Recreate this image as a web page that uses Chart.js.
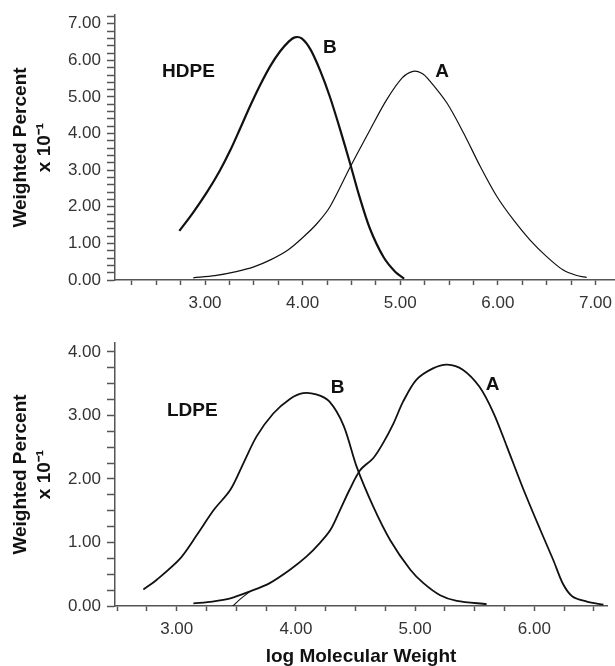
<!DOCTYPE html>
<html>
<head>
<meta charset="utf-8">
<script src="https://cdn.jsdelivr.net/npm/chart.js@4.4.1/dist/chart.umd.min.js"></script>
<style>
  html, body { margin: 0; padding: 0; background: #fff; }
  #wrap { position: relative; width: 615px; height: 666px; overflow: hidden; }
  canvas { position: absolute; left: 0; }
  #c1 { top: 0; }
  #c2 { top: 315px; }
</style>
</head>
<body>
<div id="wrap">
  <canvas id="c1" width="615" height="315"></canvas>
  <canvas id="c2" width="615" height="351"></canvas>
</div>
<script>
// ---------------- DATA ----------------
// HDPE panel
const hdpeA_x = [2.88, 3.10, 3.32, 3.50, 3.67, 3.85, 4.01, 4.15, 4.28, 4.49, 4.69, 4.86, 5.02, 5.13, 5.22, 5.30, 5.48, 5.65, 5.82, 5.99, 6.16, 6.33, 6.50, 6.67, 6.80, 6.91];
const hdpeA_y = [0.06, 0.12, 0.23, 0.36, 0.55, 0.82, 1.18, 1.55, 2.00, 3.10, 4.10, 4.92, 5.52, 5.70, 5.65, 5.45, 4.83, 4.01, 3.10, 2.28, 1.64, 1.09, 0.64, 0.27, 0.13, 0.07];
const hdpeB_x = [2.737, 2.88, 3.02, 3.15, 3.26, 3.36, 3.46, 3.56, 3.67, 3.77, 3.86, 3.92, 3.99, 4.08, 4.18, 4.28, 4.38, 4.49, 4.58, 4.69, 4.83, 4.95, 5.04];
const hdpeB_y = [1.34, 1.85, 2.40, 2.98, 3.55, 4.14, 4.74, 5.30, 5.85, 6.25, 6.52, 6.63, 6.60, 6.30, 5.72, 5.00, 4.15, 3.15, 2.30, 1.40, 0.62, 0.22, 0.04];

// LDPE panel
const ldpeA_x = [3.14, 3.30, 3.45, 3.615, 3.78, 3.95, 4.09, 4.20, 4.29, 4.37, 4.45, 4.54, 4.65, 4.73, 4.82, 4.90, 5.01, 5.15, 5.27, 5.40, 5.54, 5.66, 5.77, 5.91, 6.05, 6.16, 6.24, 6.32, 6.44, 6.58];
const ldpeA_y = [0.04, 0.07, 0.12, 0.23, 0.36, 0.57, 0.78, 0.99, 1.20, 1.51, 1.83, 2.14, 2.33, 2.56, 2.88, 3.22, 3.56, 3.74, 3.80, 3.72, 3.45, 3.03, 2.51, 1.83, 1.20, 0.72, 0.35, 0.15, 0.07, 0.02];
const ldpeA2_x = [3.47, 3.54, 3.615];
const ldpeA2_y = [0.00, 0.12, 0.23];
const ldpeB_x = [2.72, 2.83, 3.03, 3.17, 3.31, 3.45, 3.56, 3.67, 3.81, 3.95, 4.06, 4.17, 4.28, 4.40, 4.51, 4.65, 4.79, 4.96, 5.07, 5.21, 5.35, 5.60];
const ldpeB_y = [0.26, 0.41, 0.75, 1.12, 1.51, 1.83, 2.25, 2.67, 3.03, 3.26, 3.35, 3.33, 3.22, 2.84, 2.19, 1.56, 1.04, 0.57, 0.36, 0.17, 0.08, 0.03];

// Labelled (major) tick values
const hdpeXMajor = [3, 4, 5, 6, 7];
const hdpeYMajor = [0, 1, 2, 3, 4, 5, 6, 7];
const ldpeXMajor = [3, 4, 5, 6];
const ldpeYMajor = [0, 1, 2, 3, 4];

// Text labels
const yTitle = ['Weighted Percent', 'x 10\u207B\u00B9'];
const xTitle = 'log Molecular Weight';
const hdpeNotes = [{text: 'HDPE', x: 2.83, y: 5.69}, {text: 'B', x: 4.28, y: 6.35}, {text: 'A', x: 5.43, y: 5.69}];
const ldpeNotes = [{text: 'LDPE', x: 3.13, y: 3.07}, {text: 'B', x: 4.35, y: 3.44}, {text: 'A', x: 5.65, y: 3.48}];

// ---------------- RENDERING ----------------
const FAMILY = '"Liberation Sans", Arial, Helvetica, sans-serif';
Chart.defaults.font.family = FAMILY;
Chart.defaults.color = '#333';

function pts(xs, ys) { return xs.map((x, i) => ({x: x, y: ys[i]})); }

function stepTicks(step) {
  return function (scale) {
    const t = [];
    const k0 = Math.ceil(scale.min / step - 1e-9);
    for (let k = k0; k * step <= scale.max + 1e-9; k++) {
      t.push({value: Math.round(k * step * 10000) / 10000});
    }
    scale.ticks = t;
  };
}
function labeler(majors) {
  return function (v) {
    return majors.some(m => Math.abs(m - v) < 1e-6) ? Number(v).toFixed(2) : '';
  };
}
function noPad(s) { s.paddingLeft = 0; s.paddingRight = 0; s.paddingTop = 0; s.paddingBottom = 0; }

const notesPlugin = {
  id: 'notes',
  afterDatasetsDraw(chart, args, opts) {
    const {ctx} = chart;
    const xs = chart.scales.x, ys = chart.scales.y;
    ctx.save();
    ctx.font = 'bold 19px ' + FAMILY;
    ctx.fillStyle = '#111';
    ctx.textAlign = 'center';
    ctx.textBaseline = 'middle';
    (opts.items || []).forEach(n => {
      ctx.fillText(n.text, xs.getPixelForValue(n.x), ys.getPixelForValue(n.y));
    });
    ctx.restore();
  }
};

function line(data, width) {
  return {
    data: data, borderColor: '#111', borderWidth: width, pointRadius: 0,
    fill: false, tension: 0.3
  };
}

function makeChart(id, cfg) {
  return new Chart(document.getElementById(id), {
    type: 'line',
    data: {datasets: cfg.datasets},
    options: {
      responsive: false,
      animation: false,
      devicePixelRatio: 1,
      layout: {padding: {top: cfg.padTop, right: cfg.padRight, bottom: 0, left: 0}},
      plugins: {
        legend: {display: false},
        tooltip: {enabled: false},
        notes: {items: cfg.notes}
      },
      scales: {
        x: {
          type: 'linear', min: cfg.xMin, max: cfg.xMax, bounds: 'data',
          afterBuildTicks: stepTicks(0.25),
          afterFit: s => { s.height = cfg.xHeight; noPad(s); },
          ticks: {autoSkip: false, maxRotation: 0, minRotation: 0, padding: 8, color: '#333',
                  font: {size: 17}, callback: labeler(cfg.xMajor)},
          grid: {drawOnChartArea: false, drawTicks: true, tickLength: 5, tickColor: '#555', tickWidth: 1.5},
          border: {display: true, color: '#555', width: 1.5},
          title: cfg.xTitle ? {display: true, text: cfg.xTitle, color: '#111',
                  font: {size: 19, weight: 'bold', lineHeight: 1}, padding: {top: 0, bottom: 0}} : {display: false}
        },
        y: {
          type: 'linear', min: 0, max: cfg.yMax, bounds: 'data',
          afterBuildTicks: stepTicks(cfg.yStep),
          afterFit: s => { s.width = 115; noPad(s); },
          ticks: {autoSkip: false, padding: 6, color: '#333', font: {size: 17}, callback: labeler(cfg.yMajor)},
          grid: {drawOnChartArea: false, drawTicks: true, tickLength: 8, tickColor: '#555', tickWidth: 1.5},
          border: {display: true, color: '#555', width: 1.5},
          title: {display: true, text: yTitle, color: '#111',
                  font: {size: 19, weight: 'bold', lineHeight: 24 / 19}, padding: {top: 9, bottom: 0}}
        }
      }
    },
    plugins: [notesPlugin]
  });
}

makeChart('c1', {
  datasets: [line(pts(hdpeA_x, hdpeA_y), 1.2), line(pts(hdpeB_x, hdpeB_y), 2.2)],
  notes: hdpeNotes,
  padTop: 15, padRight: 0, xHeight: 35,
  xMin: 2.078, xMax: 7.2, xMajor: hdpeXMajor,
  yMax: 7.24, yStep: 0.2, yMajor: hdpeYMajor,
  xTitle: null
});

makeChart('c2', {
  datasets: [line(pts(ldpeA_x, ldpeA_y), 1.8), line(pts(ldpeA2_x, ldpeA2_y), 1.1), line(pts(ldpeB_x, ldpeB_y), 1.8)],
  notes: ldpeNotes,
  padTop: 28, padRight: 8, xHeight: 60,
  xMin: 2.482, xMax: 6.61, xMajor: ldpeXMajor,
  yMax: 4.14, yStep: 0.25, yMajor: ldpeYMajor,
  xTitle: xTitle
});
</script>
</body>
</html>
